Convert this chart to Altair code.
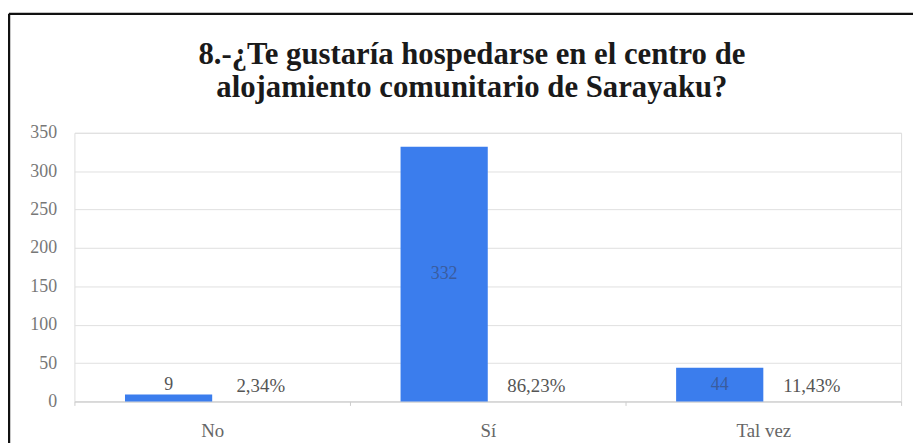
import altair as alt
import pandas as pd

categorias = ["No", "Sí", "Tal vez"]
cantidades = [9, 332, 44]
porcentajes = ["2,34%", "86,23%", "11,43%"]
marcas_y = [0, 50, 100, 150, 200, 250, 300, 350]

df = pd.DataFrame({"cat": categorias, "v": cantidades, "pct": porcentajes})

W, H = 834, 271
FONT = "Liberation Serif, Times New Roman, serif"

x_enc = alt.X("cat:N", sort=categorias, title=None,
              scale=alt.Scale(paddingInner=0, paddingOuter=0))
xo_scale = alt.Scale(domain=["Cantidad", "Porcentaje"], paddingInner=0, paddingOuter=0.58)
y_scale = alt.Scale(domain=[0, 350])

base = alt.Chart(df)

bars = base.mark_bar(color="#3b7ded").transform_calculate(s="'Cantidad'").encode(
    x=x_enc,
    xOffset=alt.XOffset("s:N", scale=xo_scale),
    y=alt.Y("v:Q", scale=y_scale, title=None),
)

lab_in = base.mark_text(font=FONT, fontSize=18, color="#3a5c9e", baseline="middle").transform_filter(
    "datum.v > 30").transform_calculate(s="'Cantidad'", ym="datum.v / 2").encode(
    x=alt.X("cat:N", sort=categorias),
    xOffset=alt.XOffset("s:N", scale=xo_scale),
    y=alt.Y("ym:Q", scale=y_scale),
    text="v:Q",
)

lab_out = base.mark_text(font=FONT, fontSize=18, color="#555", baseline="middle", dy=-10).transform_filter(
    "datum.v <= 30").transform_calculate(s="'Cantidad'").encode(
    x=alt.X("cat:N", sort=categorias),
    xOffset=alt.XOffset("s:N", scale=xo_scale),
    y=alt.Y("v:Q", scale=y_scale),
    text="v:Q",
)

lab_pct = base.mark_text(font=FONT, fontSize=19, color="#555", baseline="middle", dy=-16, dx=5).transform_calculate(
    s="'Porcentaje'").encode(
    x=alt.X("cat:N", sort=categorias),
    xOffset=alt.XOffset("s:N", scale=xo_scale),
    y=alt.datum(0, scale=y_scale),
    text="pct:N",
)

frame = pd.DataFrame({"a": [0]})
left_border = alt.Chart(frame).mark_rule(color="#111", strokeWidth=2.5).encode(
    x=alt.value(-66), y=alt.value(-120), y2=alt.value(330))
top_border = alt.Chart(frame).mark_rule(color="#111", strokeWidth=2.5).encode(
    x=alt.value(-66), x2=alt.value(860), y=alt.value(-120))

chart = alt.layer(bars, lab_in, lab_out, lab_pct, left_border, top_border).properties(
    width=W, height=H,
    title=alt.TitleParams(
        ["8.-¿Te gustaría hospedarse en el centro de", "alojamiento comunitario de Sarayaku?"],
        font=FONT, fontSize=31, fontWeight="bold", color="#1a1a1a", lineHeight=33,
        anchor="middle", frame="group", offset=0, dx=-16, dy=92),
    autosize=alt.AutoSizeParams(type="none"),
    padding={"left": 67, "top": 124, "right": 12, "bottom": 40},
).configure_view(stroke=None).configure(background="white", font=FONT).configure_text(
    font=FONT
).configure_axisY(
    values=marcas_y, labelFont=FONT, labelFontSize=18, labelColor="#777", domain=False,
    ticks=False, labelPadding=18, gridColor="#e0e0e0"
).configure_axisX(
    labelAngle=0, labelFont=FONT, labelFontSize=19, labelColor="#666", labelPadding=16,
    domainColor="#ccc", tickColor="#ccc", tickSize=4, tickBand="extent", grid=False
)

chart.save("out.html", embed_options={"renderer": "svg", "actions": False})
